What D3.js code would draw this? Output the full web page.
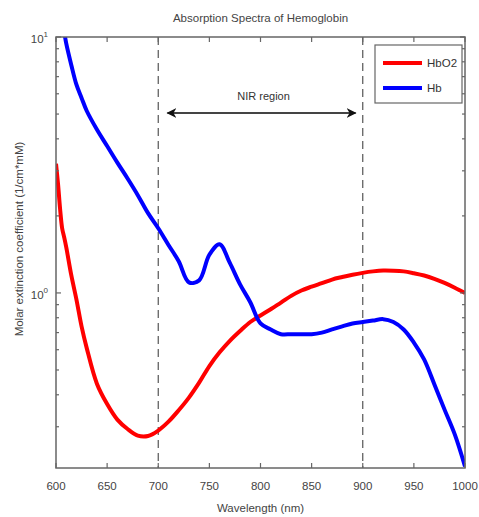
<!DOCTYPE html>
<html><head><meta charset="utf-8">
<script src="https://cdn.jsdelivr.net/npm/d3@7"></script>
<style>
body{margin:0;background:#fff;}
svg{display:block;font-family:"Liberation Sans",Arial,sans-serif;}
</style></head>
<body>
<script>
// ---- data ----
const wavelengths = [600,602,604,606,608,610,615,620,625,630,640,650,660,670,680,690,700,710,720,730,740,750,760,770,780,790,800,810,820,830,840,850,860,870,880,890,900,910,920,930,940,950,960,970,980,990,1000];
const hbo2 = [3.20,2.66,2.13,1.79,1.65,1.51,1.17,0.942,0.74,0.610,0.442,0.368,0.320,0.294,0.277,0.276,0.290,0.314,0.348,0.390,0.446,0.518,0.586,0.650,0.710,0.770,0.816,0.864,0.916,0.974,1.022,1.058,1.092,1.128,1.154,1.178,1.198,1.214,1.224,1.222,1.214,1.194,1.170,1.136,1.094,1.048,1.000];
const hb = [14.68,13.62,12.57,11.51,10.48,9.44,7.76,6.51,5.78,5.15,4.35,3.75,3.23,2.80,2.41,2.05,1.79,1.54,1.33,1.10,1.12,1.41,1.55,1.31,1.08,0.92,0.76,0.72,0.69,0.69,0.69,0.69,0.70,0.72,0.74,0.76,0.77,0.78,0.79,0.77,0.72,0.64,0.55,0.44,0.35,0.28,0.21];
const xTicks = [600,650,700,750,800,850,900,950,1000];
const yMajor = [1,10];
const yMinor = [0.3,0.4,0.5,0.6,0.7,0.8,0.9,2,3,4,5,6,7,8,9];
const seriesNames = ["HbO2","Hb"];
const seriesColors = ["#ff0000","#0000ff"];
const nirBounds = [700,900];
const titleText = "Absorption Spectra of Hemoglobin";
const xLabel = "Wavelength (nm)";
const yLabel = "Molar extinction coefficient (1/cm*mM)";

const W=479,H=517;
const m={l:56,r:14,t:37,b:49};
const svg=d3.select("body").append("svg").attr("width",W).attr("height",H);
const x=d3.scaleLinear().domain([600,1000]).range([m.l,W-m.r]);
const y=d3.scaleLog().domain([0.207,10]).range([H-m.b,m.t]);
const axisCol="#666";

svg.append("defs").append("clipPath").attr("id","clip").append("rect")
  .attr("x",m.l).attr("y",m.t).attr("width",x.range()[1]-m.l).attr("height",y.range()[0]-m.t);

// dashed NIR bounds
svg.selectAll(".nir").data(nirBounds).enter().append("line")
  .attr("x1",d=>x(d)).attr("x2",d=>x(d)).attr("y1",m.t).attr("y2",y.range()[0])
  .attr("stroke","#555").attr("stroke-width",1.2).attr("stroke-dasharray","8,5");

// arrow
const mk=svg.select("defs");
mk.append("marker").attr("id","ah").attr("viewBox","0 0 10 10").attr("refX",9).attr("refY",5)
  .attr("markerWidth",10).attr("markerHeight",10).attr("markerUnits","userSpaceOnUse").attr("orient","auto-start-reverse")
  .append("path").attr("d","M0,0 L10,5 L0,10 L3,5 Z").attr("fill","#111");
svg.append("line").attr("x1",x(709)).attr("x2",x(893)).attr("y1",113).attr("y2",113)
  .attr("stroke","#444").attr("stroke-width",1.8)
  .attr("marker-start","url(#ah)").attr("marker-end","url(#ah)");
svg.append("text").attr("x",x(803)).attr("y",100).attr("text-anchor","middle")
  .attr("font-size",11).attr("fill","#333").text("NIR region");

// lines
const line=vals=>d3.line().x((d,i)=>x(wavelengths[i])).y(d=>y(d)).curve(d3.curveCatmullRom.alpha(0.5))(vals);
const g=svg.append("g").attr("clip-path","url(#clip)");
[hbo2,hb].forEach((vals,i)=>{
  g.append("path").attr("d",line(vals)).attr("fill","none")
   .attr("stroke",seriesColors[i]).attr("stroke-width",4).attr("stroke-linejoin","round");
});

// box
const x0=m.l,x1=x.range()[1],y0=m.t,y1=y.range()[0];
svg.append("rect").attr("x",x0).attr("y",y0).attr("width",x1-x0).attr("height",y1-y0)
  .attr("fill","none").attr("stroke",axisCol).attr("stroke-width",1.5);

// x ticks
xTicks.forEach(t=>{
  svg.append("line").attr("x1",x(t)).attr("x2",x(t)).attr("y1",y1).attr("y2",y1-5).attr("stroke",axisCol).attr("stroke-width",1.2);
  svg.append("line").attr("x1",x(t)).attr("x2",x(t)).attr("y1",y0).attr("y2",y0+5).attr("stroke",axisCol).attr("stroke-width",1.2);
  svg.append("text").attr("x",x(t)).attr("y",y1+22).attr("text-anchor","middle").attr("font-size",11.5).attr("fill","#444").text(t);
});
// y ticks
yMajor.forEach(t=>{
  [[x0,x0+5],[x1,x1-5]].forEach(p=>svg.append("line").attr("x1",p[0]).attr("x2",p[1]).attr("y1",y(t)).attr("y2",y(t)).attr("stroke",axisCol).attr("stroke-width",1.2));
  const tx=svg.append("text").attr("x",x0-8).attr("y",y(t)+6).attr("text-anchor","end").attr("font-size",11.5).attr("fill","#444");
  tx.append("tspan").text("10");
  tx.append("tspan").attr("dy",-6).attr("font-size",8).text(Math.round(Math.log10(t)));
});
yMinor.forEach(t=>{
  [[x0,x0+3],[x1,x1-3]].forEach(p=>svg.append("line").attr("x1",p[0]).attr("x2",p[1]).attr("y1",y(t)).attr("y2",y(t)).attr("stroke",axisCol).attr("stroke-width",1.2));
});

// title & labels
svg.append("text").attr("x",(x0+x1)/2).attr("y",22).attr("text-anchor","middle").attr("font-size",11.5).attr("fill","#444").text(titleText);
svg.append("text").attr("x",(x0+x1)/2).attr("y",512).attr("text-anchor","middle").attr("font-size",11.5).attr("fill","#444").text(xLabel);
svg.append("text").attr("transform","translate(23,239) rotate(-90)").attr("text-anchor","middle").attr("font-size",11.5).attr("fill","#444").text(yLabel);

// legend
const lg=svg.append("g").attr("transform","translate(375,45)");
lg.append("rect").attr("width",87).attr("height",58).attr("fill","#fff").attr("stroke",axisCol).attr("stroke-width",1.2);
seriesNames.forEach((n,i)=>{
  const yy=18+i*25;
  lg.append("line").attr("x1",8).attr("x2",47).attr("y1",yy).attr("y2",yy).attr("stroke",seriesColors[i]).attr("stroke-width",4);
  lg.append("text").attr("x",52).attr("y",yy+4).attr("font-size",11.5).attr("fill","#333").text(n);
});
</script>
</body></html>
